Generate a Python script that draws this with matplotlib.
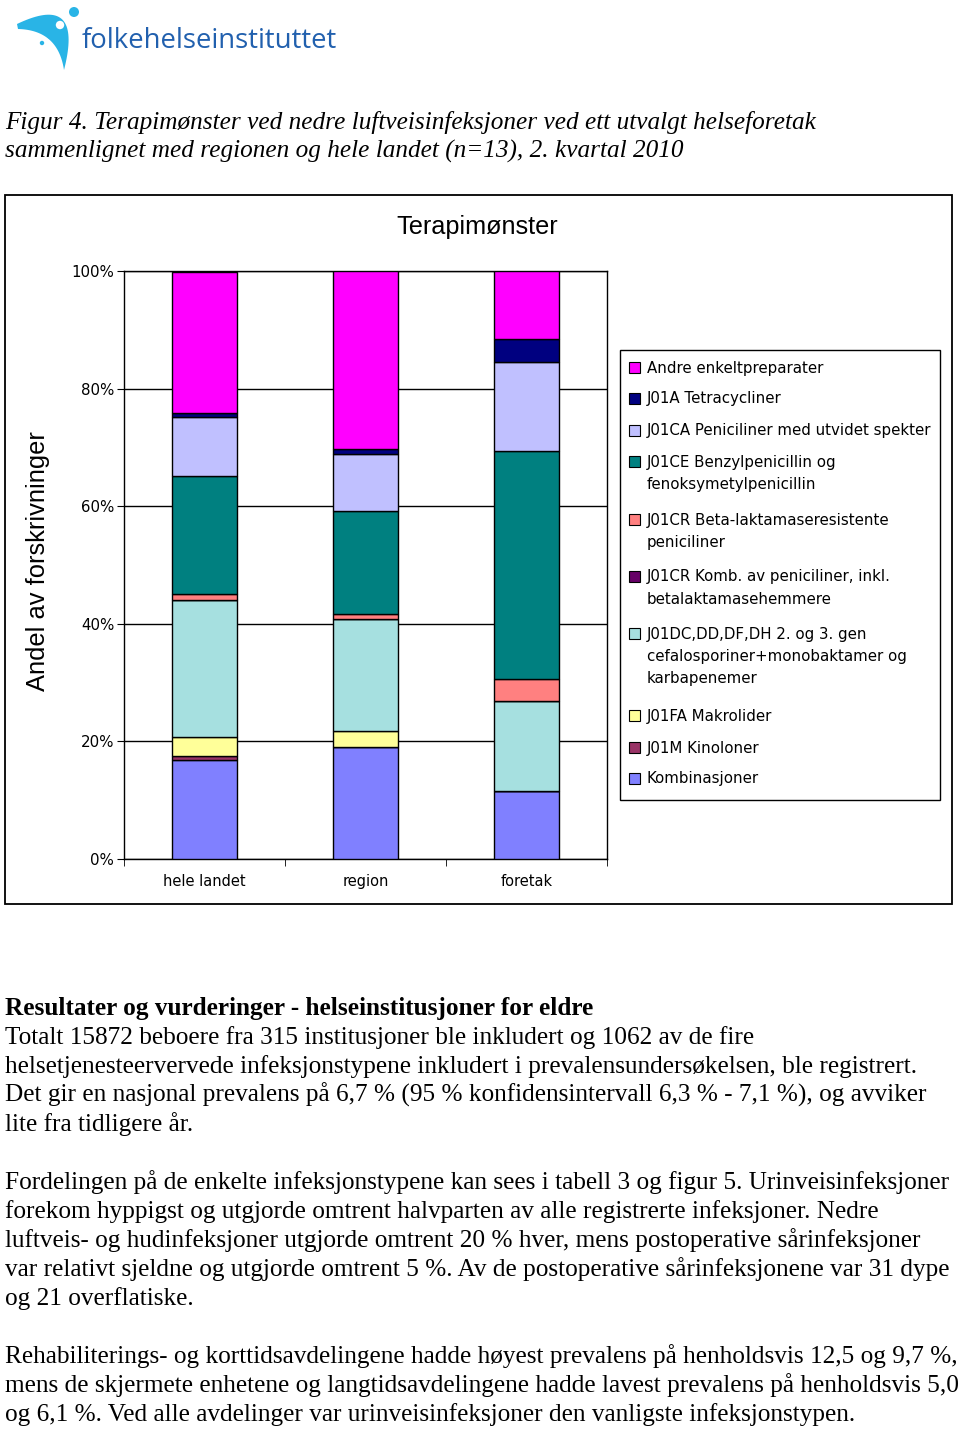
import numpy as np
import matplotlib
matplotlib.use("Agg")
import matplotlib.pyplot as plt
from matplotlib.patches import Rectangle, Polygon, Circle

# --- data (percent of prescriptions) ---
categories = ["hele landet", "region", "foretak"]

kombinasjoner = [16.8, 19.0, 11.5]
j01m_kinoloner = [0.7, 0.0, 0.0]
j01fa_makrolider = [3.3, 2.8, 0.0]
j01dc_cefalosporiner = [23.3, 19.0, 15.3]
j01cr_komb = [0.0, 0.0, 0.0]
j01cr_beta = [0.9, 0.9, 3.8]
j01ce_benzyl = [20.2, 17.4, 38.8]
j01ca_utvidet = [10.0, 9.7, 15.2]
j01a_tetra = [0.6, 1.0, 3.9]
andre = [24.1, 30.2, 11.5]

series_labels = [
    "Kombinasjoner",
    "J01M Kinoloner",
    "J01FA Makrolider",
    "J01DC,DD,DF,DH 2. og 3. gen\ncefalosporiner+monobaktamer og\nkarbapenemer",
    "J01CR Komb. av peniciliner, inkl.\nbetalaktamasehemmere",
    "J01CR Beta-laktamaseresistente\npeniciliner",
    "J01CE Benzylpenicillin og\nfenoksymetylpenicillin",
    "J01CA Peniciliner med utvidet spekter",
    "J01A Tetracycliner",
    "Andre enkeltpreparater",
]
series_values = [kombinasjoner, j01m_kinoloner, j01fa_makrolider, j01dc_cefalosporiner,
                 j01cr_komb, j01cr_beta, j01ce_benzyl, j01ca_utvidet, j01a_tetra, andre]
series_colors = ["#8080FF", "#993366", "#FFFF99", "#A6E0E0", "#660066",
                 "#FF8080", "#008080", "#C0C0FF", "#000080", "#FF00FF"]

yticks = [0, 20, 40, 60, 80, 100]

caption = ["Figur 4. Terapimønster ved nedre luftveisinfeksjoner ved ett utvalgt helseforetak",
           "sammenlignet med regionen og hele landet (n=13), 2. kvartal 2010"]
heading = "Resultater og vurderinger - helseinstitusjoner for eldre"
paragraphs = [
    ["Totalt 15872 beboere fra 315 institusjoner ble inkludert og 1062 av de fire",
     "helsetjenesteervervede infeksjonstypene inkludert i prevalensundersøkelsen, ble registrert.",
     "Det gir en nasjonal prevalens på 6,7 % (95 % konfidensintervall 6,3 % - 7,1 %), og avviker",
     "lite fra tidligere år."],
    ["Fordelingen på de enkelte infeksjonstypene kan sees i tabell 3 og figur 5. Urinveisinfeksjoner",
     "forekom hyppigst og utgjorde omtrent halvparten av alle registrerte infeksjoner. Nedre",
     "luftveis- og hudinfeksjoner utgjorde omtrent 20 % hver, mens postoperative sårinfeksjoner",
     "var relativt sjeldne og utgjorde omtrent 5 %. Av de postoperative sårinfeksjonene var 31 dype",
     "og 21 overflatiske."],
    ["Rehabiliterings- og korttidsavdelingene hadde høyest prevalens på henholdsvis 12,5 og 9,7 %,",
     "mens de skjermete enhetene og langtidsavdelingene hadde lavest prevalens på henholdsvis 5,0",
     "og 6,1 %. Ved alle avdelinger var urinveisinfeksjoner den vanligste infeksjonstypen."],
]

W, H = 960, 1430
fig = plt.figure(figsize=(W / 100, H / 100), dpi=100)
fig.patch.set_facecolor("white")

# overlay in pixel coordinates for page decoration
ov = fig.add_axes([0, 0, 1, 1], zorder=0)
ov.set_xlim(0, W)
ov.set_ylim(H, 0)
ov.axis("off")

# logo
logo_blue = "#29B4E6"
t = np.linspace(0, 1, 40)
def bez(p0, p1, p2):
    p0, p1, p2 = map(np.array, (p0, p1, p2))
    return ((1 - t)[:, None] ** 2) * p0 + 2 * ((1 - t) * t)[:, None] * p1 + (t[:, None] ** 2) * p2
outer = bez((17, 24), (84, -8), (64, 70))
inner = bez((64, 70), (58, 30), (18, 29))
ov.add_patch(Polygon(np.vstack([outer, inner]), closed=True, fc=logo_blue, ec="none"))
ov.add_patch(Circle((60, 25), 4.2, fc="white", ec="none"))
ov.add_patch(Circle((74, 12), 5.0, fc=logo_blue, ec="none"))
ov.add_patch(Circle((50, 36), 2.8, fc=logo_blue, ec="none"))
ov.add_patch(Circle((42, 43), 2.2, fc=logo_blue, ec="none"))
ov.text(82, 48, "folkehelseinstituttet", fontsize=19.8, family="Open Sans",
        color="#2160AE", va="baseline", ha="left")

# caption
for i, line in enumerate(caption):
    ov.text(5, 129 + 29 * i, line, fontsize=18.2, family="Liberation Serif",
            style="italic", va="baseline", ha="left")

# chart frame
ov.add_patch(Rectangle((5, 195), 947, 709, fill=False, ec="black", lw=1.3))
ov.text(477, 227, "Terapimønster", fontsize=18.2, family="Liberation Sans",
        ha="center", va="center")
ov.text(38, 561, "Andel av forskrivninger", fontsize=18.4, family="Liberation Sans",
        rotation=90, ha="center", va="center")

# legend box (drawn manually to match the layout)
ov.add_patch(Rectangle((620, 350), 320, 450, fill=False, ec="black", lw=1))
legend_y = [778, 747, 715, 633, 576, 519, 461, 430, 398, 367]
for lab, col, y in zip(series_labels, series_colors, legend_y):
    ov.add_patch(Rectangle((629, y - 5.5), 11, 11, fc=col, ec="black", lw=0.8))
    ov.text(647, y - 6.5, lab, fontsize=10.8, family="DejaVu Sans",
            ha="left", va="top", linespacing=1.6)

# body text
ov.text(5, 1015, heading, fontsize=18.2, family="Liberation Serif",
        weight="bold", va="baseline", ha="left")
y = 1044
for para in paragraphs:
    for line in para:
        ov.text(5, y, line, fontsize=18.2, family="Liberation Serif",
                va="baseline", ha="left")
        y += 29
    y += 29

# chart axes
ax = fig.add_axes([124 / W, 1 - 859 / H, 483 / W, 588 / H], zorder=2)
ax.patch.set_alpha(0)
x = np.arange(len(categories))
bottom = np.zeros(len(categories))
for vals, col in zip(series_values, series_colors):
    ax.bar(x, vals, width=0.405, bottom=bottom, color=col, edgecolor="black",
           linewidth=1.0, zorder=3)
    bottom += np.array(vals)

ax.set_xlim(-0.5, len(categories) - 0.5)
ax.set_ylim(0, 100)
ax.set_yticks(yticks)
ax.set_yticklabels([f"{v}%" for v in yticks], fontsize=10.8, family="DejaVu Sans")
ax.set_xticks(x)
ax.set_xticklabels(categories, fontsize=10.5, family="DejaVu Sans")
ax.set_xticks(np.arange(len(categories) + 1) - 0.5, minor=True)
ax.tick_params(axis="x", which="major", length=0, pad=11)
ax.tick_params(axis="x", which="minor", length=5, direction="out", color="black")
ax.tick_params(axis="y", length=5, direction="out", color="black", pad=2)
ax.yaxis.grid(True, color="black", linewidth=1.0, zorder=0)
ax.set_axisbelow(True)
for sp in ax.spines.values():
    sp.set_color("black")
    sp.set_linewidth(1.0)

fig.savefig("out.png", dpi=100, facecolor="white")
